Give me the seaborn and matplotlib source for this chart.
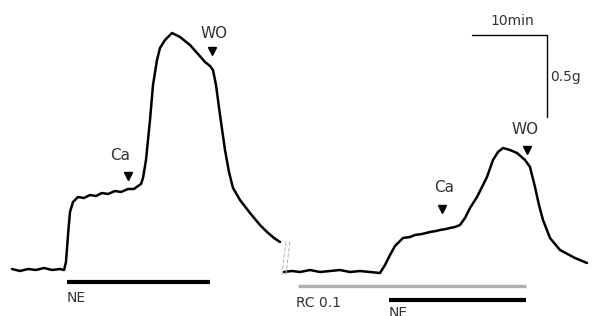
import matplotlib.pyplot as plt
import seaborn as sns

# values, in image pixels (x right, y down)
left_x = [12, 20, 28, 36, 44, 52, 60, 64, 66, 68, 70, 73, 78, 84, 90, 96, 102, 108,
          115, 121, 128, 134, 138, 141, 143, 146, 150, 153, 157, 160, 165, 172, 180,
          190, 198, 205, 210, 213, 216, 220, 225, 229, 233, 240, 250, 260, 267, 274, 280]
left_y = [269, 271, 269, 270, 268, 270, 269, 270, 262, 235, 212, 202, 197, 198, 195,
          196, 193, 194, 191, 192, 189, 189, 186, 184, 178, 160, 120, 85, 60, 48, 40,
          33, 37, 45, 54, 62, 66, 70, 85, 115, 150, 172, 188, 200, 213, 225, 232, 238, 242]

right_x = [284, 292, 300, 310, 320, 330, 340, 350, 360, 370, 380, 385, 390, 395, 403,
           410, 415, 422, 430, 436, 440, 446, 450, 455, 460, 465, 470, 477, 487, 493,
           498, 503, 510, 517, 525, 530, 535, 539, 543, 550, 560, 575, 587]
right_y = [272, 271, 272, 270, 272, 271, 270, 272, 271, 272, 273, 265, 255, 246, 238,
           237, 235, 234, 232, 231, 230, 229, 228, 227, 225, 218, 208, 197, 177, 160,
           152, 148, 150, 153, 160, 167, 187, 205, 220, 238, 250, 258, 263]

# drug application bars: (x start, x end, y, colour, width, label, label x, label y)
bars = [
    (67, 210, 282, "black", 3.0, "NE", 67, 298),
    (298, 526, 286, "#b0b0b0", 2.4, "RC 0.1", 296, 303),
    (389, 526, 300, "black", 3.0, "NE", 389, 313),
]

# arrow markers: label, arrow x, arrow y, label x, label y
arrows = [
    ("Ca", 128, 176, 120, 155),
    ("WO", 212, 51, 214, 33),
    ("Ca", 442, 209, 444, 188),
    ("WO", 527, 150, 525, 130),
]

sns.set_theme(style="white")
plt.rcParams["font.family"] = ["DejaVu Sans"]

fig = plt.figure(figsize=(5.96, 3.16), dpi=100)
ax = fig.add_axes([0, 0, 1, 1])

sns.lineplot(x=left_x, y=left_y, ax=ax, color="black", lw=1.8, sort=False)
sns.lineplot(x=right_x, y=right_y, ax=ax, color="black", lw=1.8, sort=False)

for x0, x1, y, c, w, lab, lx, ly in bars:
    ax.plot([x0, x1], [y, y], color=c, lw=w, solid_capstyle="butt")
    ax.text(lx, ly, lab, fontsize=10, color="#333333", ha="left", va="center")

for lab, x, y, lx, ly in arrows:
    ax.plot(x, y, marker="v", color="black", ms=6, ls="none")
    ax.text(lx, ly, lab, fontsize=11, color="#333333", ha="center", va="center")

# axis break marks
ax.plot([282, 286], [275, 240], color="#bbbbbb", lw=0.8, ls="--")
ax.plot([286, 290], [275, 240], color="#bbbbbb", lw=0.8, ls="--")

# scale bar
ax.plot([472, 547, 547], [35, 35, 117], color="black", lw=1.0)
ax.text(512, 21, "10min", fontsize=10, color="#333333", ha="center", va="center")
ax.text(550, 77, "0.5g", fontsize=10, color="#333333", ha="left", va="center")

ax.set_xlim(0, 596)
ax.set_ylim(316, 0)
ax.axis("off")

fig.savefig("out.png", dpi=100)
